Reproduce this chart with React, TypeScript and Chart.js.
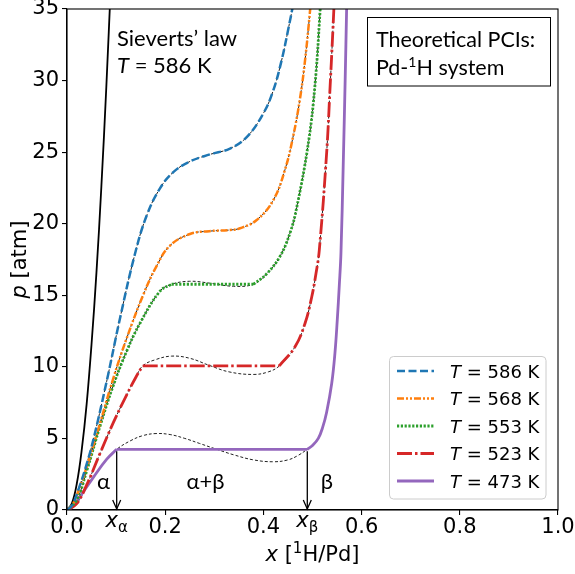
import React, { useEffect, useRef } from "react";
import { Chart, registerables } from "chart.js";

Chart.register(...registerables);

// ---- data ----
const xTickValues = [0, 0.2, 0.4, 0.6, 0.8, 1.0];
const yTickValues = [0, 5, 10, 15, 20, 25, 30, 35];

const temperatures = [586, 568, 553, 523, 473];

const sievertsX = [0, 0.01, 0.02, 0.03, 0.04, 0.05, 0.06, 0.07, 0.08, 0.09];
const sievertsP = [0, 0.46, 1.85, 4.2, 7.4, 11.6, 16.6, 22.6, 29.5, 37.3];

const t586X = [0, 0.01, 0.025, 0.04, 0.0536, 0.0809, 0.108, 0.1385, 0.1623, 0.1894, 0.2165, 0.2505, 0.291, 0.332, 0.366, 0.3998, 0.42, 0.437, 0.4507, 0.461, 0.47];
const t586P = [0, 0.3, 1.6, 3.2, 4.9, 9.0, 13.4, 17.9, 20.57, 22.47, 23.6, 24.35, 24.84, 25.25, 26.05, 27.7, 29.3, 31.4, 33.6, 35.4, 37.2];

const t568X = [0, 0.01, 0.025, 0.04, 0.058, 0.0672, 0.0943, 0.1216, 0.1554, 0.1827, 0.2098, 0.2505, 0.29, 0.332, 0.3523, 0.3864, 0.4202, 0.444, 0.4609, 0.4745, 0.4847, 0.4949, 0.502];
const t568P = [0, 0.3, 1.5, 3.0, 5.0, 6.05, 9.2, 12.0, 15.04, 17.06, 18.47, 19.28, 19.48, 19.56, 19.68, 20.26, 21.65, 23.78, 26.15, 28.73, 31.38, 34.85, 37.7];

const t553X = [0, 0.0198, 0.0401, 0.0672, 0.0943, 0.1216, 0.1487, 0.1894, 0.213, 0.3795, 0.4067, 0.4338, 0.4542, 0.4678, 0.4914, 0.5051, 0.5153, 0.52];
const t553P = [0, 0.7, 2.73, 5.85, 8.7, 11.1, 13.05, 15.29, 15.77, 15.77, 16.5, 17.72, 19.35, 21.12, 25.6, 29.7, 34.8, 37.9];

const t523X = [0, 0.0198, 0.0401, 0.0672, 0.0943, 0.1216, 0.14, 0.1542, 0.4324, 0.4644, 0.4847, 0.4984, 0.5071, 0.5138, 0.5289, 0.5356, 0.5415, 0.546, 0.55];
const t523P = [0, 0.45, 1.75, 3.95, 6.1, 8.05, 9.26, 10.07, 10.07, 11.4, 13.03, 14.88, 16.52, 18.14, 25.0, 29.4, 33.5, 36.9, 40.0];

const t473X = [0, 0.008, 0.016, 0.027, 0.054, 0.081, 0.1012, 0.4894, 0.5005, 0.5118, 0.5205, 0.5289, 0.5391, 0.5458, 0.5505, 0.5546, 0.558, 0.5625, 0.5665, 0.5695, 0.572];
const t473P = [0, 0.12, 0.4, 0.95, 2.3, 3.55, 4.24, 4.24, 4.52, 5.0, 5.75, 6.85, 8.84, 11.0, 13.3, 15.7, 18.0, 24.0, 30.0, 35.0, 39.0];

// unstable (van der Waals-like) loops under the plateaus
const loop553X = [0.213, 0.25, 0.29, 0.339, 0.3795];
const loop553P = [15.77, 15.98, 15.85, 15.63, 15.77];
const loop523X = [0.1542, 0.18, 0.2132, 0.25, 0.29, 0.33, 0.3794, 0.41, 0.4324];
const loop523P = [10.07, 10.5, 10.75, 10.6, 10.1, 9.65, 9.47, 9.65, 10.07];
const loop473X = [0.1012, 0.13, 0.155, 0.1813, 0.21, 0.24, 0.27, 0.305, 0.34, 0.38, 0.42, 0.45, 0.47, 0.4894];
const loop473P = [4.24, 4.85, 5.2, 5.34, 5.27, 5.0, 4.65, 4.24, 3.85, 3.5, 3.37, 3.5, 3.8, 4.24];

const xAlpha = 0.1012;
const xBeta = 0.4894;
const plateau473 = 4.24;

// ---- helpers ----
type Pt = { x: number; y: number };
const pts = (xs: number[], ps: number[]): Pt[] => xs.map((x, i) => ({ x, y: ps[i] }));

function withLoop(xs: number[], ps: number[], lx: number[], lp: number[]): Pt[] {
  const a = lx[0];
  const b = lx[lx.length - 1];
  const base = pts(xs, ps).filter((p) => p.x < a || p.x > b);
  return base.concat(pts(lx, lp)).sort((p, q) => p.x - q.x);
}

// split a curve at its flat (plateau) pieces so the spline keeps sharp corners there
function splitAtPlateaus(d: Pt[]): { pts: Pt[]; flat: boolean }[] {
  const out: { pts: Pt[]; flat: boolean }[] = [];
  let cur: Pt[] = [d[0]];
  for (let i = 1; i < d.length; i++) {
    if (d[i].y === d[i - 1].y) {
      if (cur.length > 1) out.push({ pts: cur, flat: false });
      out.push({ pts: [d[i - 1], d[i]], flat: true });
      cur = [d[i]];
    } else {
      cur.push(d[i]);
    }
  }
  if (cur.length > 1) out.push({ pts: cur, flat: false });
  return out;
}

const FONT_AX = "DejaVu Sans";
const FONT_TXT = "Lato, 'Open Sans', sans-serif";

type Run = { t: string; f: string; dy?: number };
function drawRuns(ctx: CanvasRenderingContext2D, parts: Run[], x: number, y: number, align: "left" | "center") {
  let w = 0;
  parts.forEach((p) => {
    ctx.font = p.f;
    w += ctx.measureText(p.t).width;
  });
  let cx = align === "center" ? x - w / 2 : x;
  ctx.textAlign = "left";
  ctx.textBaseline = "alphabetic";
  parts.forEach((p) => {
    ctx.font = p.f;
    ctx.fillText(p.t, cx, y + (p.dy || 0));
    cx += ctx.measureText(p.t).width;
  });
}

const seriesStyle = [
  { color: "#1f77b4", dash: [8, 3.5], width: 2.5 },
  { color: "#ff7f0e", dash: [7, 2, 2, 2, 2, 2], width: 2.5 },
  { color: "#2ca02c", dash: [2.2, 1.6], width: 2.8 },
  { color: "#d62728", dash: [15, 3, 2.5, 3], width: 2.8 },
  { color: "#9467bd", dash: [] as number[], width: 2.8 },
];

export default function App() {
  const ref = useRef<HTMLCanvasElement>(null);

  useEffect(() => {
    document.body.style.margin = "0";
    const canvas = ref.current!;

    const colored = [
      pts(t586X, t586P),
      pts(t568X, t568P),
      pts(t553X, t553P),
      pts(t523X, t523P),
      pts(t473X, t473P),
    ];
    const theory = [
      pts(t586X, t586P),
      pts(t568X, t568P),
      withLoop(t553X, t553P, loop553X, loop553P),
      withLoop(t523X, t523P, loop523X, loop523P),
      withLoop(t473X, t473P, loop473X, loop473P),
    ];

    const datasets: any[] = [];
    colored.forEach((d, i) => {
      splitAtPlateaus(d).forEach((seg) => {
        datasets.push({
          data: seg.pts,
          showLine: true,
          borderColor: seriesStyle[i].color,
          borderDash: seriesStyle[i].dash,
          borderWidth: seriesStyle[i].width,
          tension: seg.flat ? 0 : 0.4,
          pointRadius: 0,
          fill: false,
          order: 1,
        });
      });
    });
    theory.forEach((d) => {
      datasets.push({
        data: d,
        showLine: true,
        borderColor: "#222",
        borderDash: [3, 2],
        borderWidth: 1,
        tension: 0.4,
        pointRadius: 0,
        fill: false,
        order: 3,
      });
    });
    datasets.push({
      data: pts(sievertsX, sievertsP),
      showLine: true,
      borderColor: "#000",
      borderWidth: 1.8,
      tension: 0.4,
      pointRadius: 0,
      fill: false,
      order: 2,
    });

    const annot = {
      id: "annot",
      afterDraw(chart: any) {
        const ctx: CanvasRenderingContext2D = chart.ctx;
        const xs = chart.scales.x;
        const ys = chart.scales.y;
        const ca = chart.chartArea;
        ctx.save();
        // frame
        ctx.strokeStyle = "#000";
        ctx.lineWidth = 1.1;
        ctx.setLineDash([]);
        ctx.strokeRect(ca.left, ca.top, ca.right - ca.left, ca.bottom - ca.top);

        ctx.fillStyle = "#000";
        // Sieverts text
        const fS = `22px ${FONT_TXT}`;
        const fSI = `italic 22px ${FONT_TXT}`;
        drawRuns(ctx, [{ t: "Sieverts\u2019 law", f: fS }], 117, 46, "left");
        drawRuns(ctx, [{ t: "T", f: fSI }, { t: " = 586 K", f: fS }], 117, 73, "left");

        // text box
        const fB = `21.5px ${FONT_TXT}`;
        ctx.lineWidth = 1;
        ctx.strokeRect(367.5, 17.5, 183, 68.5);
        drawRuns(ctx, [{ t: "Theoretical PCIs:", f: fB }], 376, 46.5, "left");
        drawRuns(
          ctx,
          [
            { t: "Pd-", f: fB },
            { t: "1", f: `14px ${FONT_TXT}`, dy: -8 },
            { t: "H system", f: fB },
          ],
          376,
          75,
          "left"
        );

        // arrows
        const yPl = ys.getPixelForValue(plateau473);
        const yAx = ca.bottom;
        ctx.lineWidth = 1.3;
        [xAlpha, xBeta].forEach((xv) => {
          const px = xs.getPixelForValue(xv);
          ctx.beginPath();
          ctx.moveTo(px, yPl + 2);
          ctx.lineTo(px, yAx - 1);
          ctx.stroke();
          ctx.beginPath();
          ctx.moveTo(px - 4, yAx - 10);
          ctx.lineTo(px, yAx - 1);
          ctx.lineTo(px + 4, yAx - 10);
          ctx.stroke();
        });

        // phase labels
        const fG = `22px ${FONT_TXT}`;
        drawRuns(ctx, [{ t: "\u03b1", f: fG }], 103.5, 489, "center");
        drawRuns(ctx, [{ t: "\u03b1+\u03b2", f: fG }], 205.5, 489, "center");
        drawRuns(ctx, [{ t: "\u03b2", f: fG }], 327, 489, "center");

        // x_alpha / x_beta under axis
        const fAxI = `oblique 21px ${FONT_AX}`;
        const fSub = `15px ${FONT_AX}`;
        drawRuns(ctx, [{ t: "x", f: fAxI }, { t: "\u03b1", f: fSub, dy: 5 }], xs.getPixelForValue(xAlpha), 527, "center");
        drawRuns(ctx, [{ t: "x", f: fAxI }, { t: "\u03b2", f: fSub, dy: 5 }], xs.getPixelForValue(xBeta), 527, "center");

        // axis titles
        const fAx = `21px ${FONT_AX}`;
        drawRuns(
          ctx,
          [
            { t: "x", f: fAxI },
            { t: " [", f: fAx },
            { t: "1", f: `15px ${FONT_AX}`, dy: -8 },
            { t: "H/Pd]", f: fAx },
          ],
          (ca.left + ca.right) / 2,
          561,
          "center"
        );
        ctx.save();
        ctx.translate(26, (ca.top + ca.bottom) / 2);
        ctx.rotate(-Math.PI / 2);
        drawRuns(ctx, [{ t: "p", f: fAxI }, { t: " [atm]", f: fAx }], 0, 0, "center");
        ctx.restore();

        // legend
        const lx = 389.5, ly = 356.5, lw = 156.5, lh = 142.5, r = 4;
        ctx.beginPath();
        ctx.moveTo(lx + r, ly);
        ctx.lineTo(lx + lw - r, ly);
        ctx.quadraticCurveTo(lx + lw, ly, lx + lw, ly + r);
        ctx.lineTo(lx + lw, ly + lh - r);
        ctx.quadraticCurveTo(lx + lw, ly + lh, lx + lw - r, ly + lh);
        ctx.lineTo(lx + r, ly + lh);
        ctx.quadraticCurveTo(lx, ly + lh, lx, ly + lh - r);
        ctx.lineTo(lx, ly + r);
        ctx.quadraticCurveTo(lx, ly, lx + r, ly);
        ctx.closePath();
        ctx.fillStyle = "rgba(255,255,255,0.8)";
        ctx.fill();
        ctx.strokeStyle = "#cccccc";
        ctx.lineWidth = 1;
        ctx.stroke();

        const fL = `18px ${FONT_AX}`;
        const fLI = `oblique 18px ${FONT_AX}`;
        temperatures.forEach((T, i) => {
          const cy = 371 + i * 27.5;
          const st = seriesStyle[i];
          ctx.strokeStyle = st.color;
          ctx.lineWidth = st.width;
          ctx.setLineDash(st.dash);
          ctx.beginPath();
          ctx.moveTo(397, cy);
          ctx.lineTo(434, cy);
          ctx.stroke();
          ctx.setLineDash([]);
          ctx.fillStyle = "#000";
          drawRuns(ctx, [{ t: "T", f: fLI }, { t: ` = ${T} K`, f: fL }], 450, cy + 6.5, "left");
        });
        ctx.restore();
      },
    };

    const chart = new Chart(canvas, {
      type: "scatter",
      data: { datasets },
      options: {
        responsive: false,
        animation: false,
        devicePixelRatio: 1,
        layout: { padding: { top: 9, right: 17, left: 0, bottom: 0 } },
        plugins: { legend: { display: false }, tooltip: { enabled: false } },
        elements: { point: { radius: 0 } },
        scales: {
          x: {
            type: "linear",
            min: 0,
            max: 1,
            afterBuildTicks: (s: any) => {
              s.ticks = xTickValues.map((v) => ({ value: v }));
            },
            ticks: {
              callback: (v: any) => Number(v).toFixed(1),
              font: { family: FONT_AX, size: 21 },
              color: "#000",
              padding: 0,
              maxRotation: 0,
              autoSkip: false,
            },
            grid: { drawOnChartArea: false, drawTicks: true, tickLength: 5, color: "#000", lineWidth: 1.1 },
            border: { display: true, color: "#000", width: 1.1 },
            afterFit: (s: any) => {
              s.height = 64;
              s.paddingLeft = 0;
              s.paddingRight = 0;
            },
          },
          y: {
            type: "linear",
            min: 0,
            max: 35,
            afterBuildTicks: (s: any) => {
              s.ticks = yTickValues.map((v) => ({ value: v }));
            },
            ticks: {
              callback: (v: any) => String(v),
              font: { family: FONT_AX, size: 21 },
              color: "#000",
              padding: 3,
              autoSkip: false,
            },
            grid: { drawOnChartArea: false, drawTicks: true, tickLength: 5, color: "#000", lineWidth: 1.1 },
            border: { display: true, color: "#000", width: 1.1 },
            afterFit: (s: any) => {
              s.width = 67;
              s.paddingTop = 0;
              s.paddingBottom = 0;
            },
          },
        },
      },
      plugins: [annot],
    } as any);

    return () => chart.destroy();
  }, []);

  return <canvas ref={ref} width={575} height={574} style={{ display: "block" }} />;
}
